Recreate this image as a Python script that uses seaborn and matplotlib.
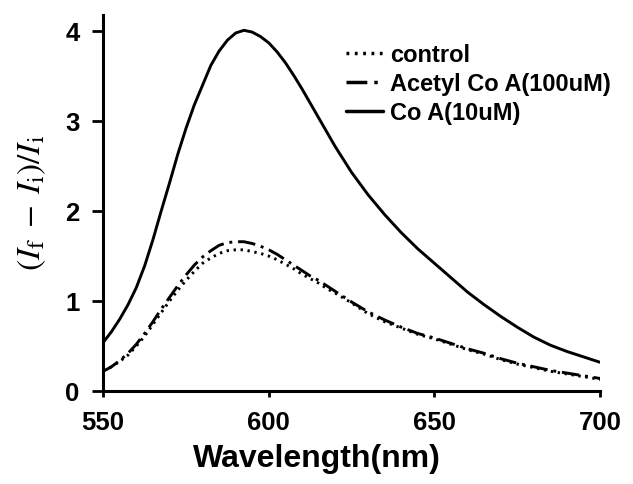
#!/usr/bin/env python3

import pandas as pd
import matplotlib
matplotlib.use("Agg")
import matplotlib.pyplot as plt
import seaborn as sns

# wavelength (nm) and (If - Ii)/Ii
wavelength = [550, 552.5, 555, 557.5, 560, 562.5, 565, 567.5, 570, 572.5,
              575, 577.5, 580, 582.5, 585, 587.5, 590, 592.5, 595, 597.5,
              600, 602.5, 605, 607.5, 610, 612.5, 615, 617.5, 620,
              625, 630, 635, 640, 645, 650, 655, 660, 665, 670,
              675, 680, 685, 690, 695, 700]

control = [0.23, 0.27, 0.33, 0.40, 0.50, 0.61, 0.74, 0.87, 1.00, 1.12,
           1.23, 1.33, 1.42, 1.48, 1.53, 1.56, 1.57, 1.57, 1.55, 1.53,
           1.50, 1.46, 1.41, 1.36, 1.30, 1.25, 1.20, 1.14, 1.09,
           0.98, 0.86, 0.77, 0.70, 0.63, 0.58, 0.52, 0.46, 0.41, 0.35,
           0.30, 0.26, 0.22, 0.19, 0.16, 0.13]

acetyl_coa = [0.22, 0.27, 0.34, 0.42, 0.52, 0.64, 0.77, 0.91, 1.04, 1.17,
              1.29, 1.40, 1.49, 1.56, 1.62, 1.65, 1.66, 1.66, 1.64, 1.61,
              1.57, 1.52, 1.46, 1.40, 1.34, 1.28, 1.23, 1.17, 1.11,
              0.99, 0.88, 0.79, 0.71, 0.64, 0.59, 0.53, 0.47, 0.42, 0.36,
              0.31, 0.27, 0.23, 0.20, 0.17, 0.14]

coa = [0.54, 0.66, 0.80, 0.96, 1.15, 1.39, 1.68, 2.00, 2.31, 2.63,
       2.92, 3.18, 3.40, 3.62, 3.78, 3.90, 3.98, 4.01, 3.99, 3.94,
       3.87, 3.77, 3.65, 3.51, 3.36, 3.20, 3.04, 2.88, 2.72,
       2.43, 2.18, 1.96, 1.76, 1.58, 1.42, 1.26, 1.10, 0.96, 0.83,
       0.71, 0.60, 0.51, 0.44, 0.38, 0.32]

labels = ["control", "Acetyl Co A(100uM)", "Co A(10uM)"]

sns.set_style("ticks")
plt.rcParams['font.family'] = ['Liberation Sans', 'DejaVu Sans']
plt.rcParams['mathtext.fontset'] = 'stix'
for key in ['text.color', 'axes.labelcolor', 'xtick.color', 'ytick.color',
            'axes.edgecolor']:
    plt.rcParams[key] = 'black'

df = pd.DataFrame({'wavelength': wavelength, labels[0]: control,
                   labels[1]: acetyl_coa, labels[2]: coa})

fig = plt.figure(figsize=(6.33, 4.84), dpi=100)
ax = fig.add_axes([0.163, 0.192, 0.785, 0.777])

lw = 2.1
for name in labels:
    sns.lineplot(data=df, x='wavelength', y=name, ax=ax, color='black',
                 lw=lw, label=name)

lines = ax.get_lines()
lines[0].set_dashes((0.8, 1.6))
lines[1].set_dashes((6, 2, 1, 2))

ax.set_xlim(550, 700)
ax.set_ylim(0, 4.18)
ax.set_xticks([550, 600, 650, 700])
ax.set_yticks([0, 1, 2, 3, 4])
ax.tick_params(axis='x', direction='out', length=4, width=2,
               labelsize=18.5, pad=10)
ax.tick_params(axis='y', direction='out', length=8, width=2,
               labelsize=18.5, pad=9)
for lab in ax.get_xticklabels() + ax.get_yticklabels():
    lab.set_fontweight('bold')
for side in ['left', 'bottom']:
    ax.spines[side].set_linewidth(2.2)
sns.despine(ax=ax)

ax.set_xlabel('Wavelength(nm)', fontsize=23, fontweight='bold')
ax.xaxis.set_label_coords(0.43, -0.142)
ax.set_ylabel(r'$(I_{\rm f}\;-\;I_{\rm i})/I_{\rm i}$', fontsize=24)
ax.yaxis.set_label_coords(-0.111, 0.5)

leg = ax.legend(loc='upper left', bbox_to_anchor=(0.464, 0.955),
                frameon=False, fontsize=17, handlelength=1.6,
                handletextpad=0.3, labelspacing=0.25, borderpad=0)
for h in leg.get_lines():
    h.set_linewidth(2.5)
for t in leg.get_texts():
    t.set_fontweight('bold')

plt.savefig('out.png', dpi=100)
plt.close()
